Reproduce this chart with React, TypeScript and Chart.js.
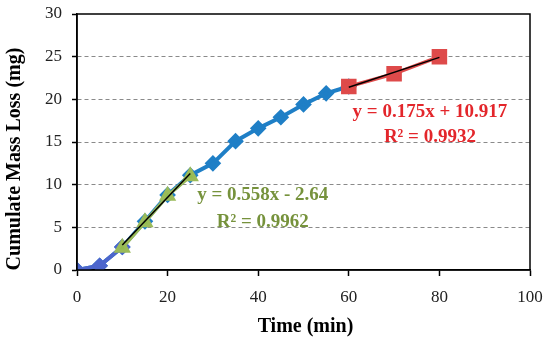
import React, { useEffect, useRef } from "react";
import { Chart, registerables } from "chart.js";

Chart.register(...registerables);

const time = [0, 5, 10, 15, 20, 25, 30, 35, 40, 45, 50, 55, 60];
const massLoss = [0, 0.5, 2.7, 5.7, 8.8, 11.1, 12.5, 15.1, 16.6, 17.9, 19.4, 20.7, 21.5];
const earlyTime = [0, 5, 10];
const earlyMass = [0, 0.5, 2.7];
const fitTime1 = [10, 15, 20, 25];
const fitMass1 = [2.6, 5.6, 8.7, 11.0];
const fitTime2 = [60, 70, 80];
const fitMass2 = [21.5, 23.0, 25.0];
const slope1 = 0.558;
const intercept1 = -2.64;
const slope2 = 0.175;
const intercept2 = 10.917;
const eq1 = ["y = 0.558x - 2.64", "R² = 0.9962"];
const eq2 = ["y = 0.175x + 10.917", "R² = 0.9932"];
const xTicks = [0, 20, 40, 60, 80, 100];
const yTicks = [0, 5, 10, 15, 20, 25, 30];

const FONT = "'Liberation Serif', 'Times New Roman', serif";

const pts = (xs: number[], ys: number[]) => xs.map((x, i) => ({ x, y: ys[i] }));

export default function App() {
  const ref = useRef<HTMLCanvasElement | null>(null);
  useEffect(() => {
    document.body.style.margin = "0";
    const canvas = ref.current!;
    const framePlugin = {
      id: "frame",
      afterDatasetsDraw(chart: any) {
        const { ctx, chartArea: a, scales } = chart;
        ctx.save();
        ctx.strokeStyle = "#000";
        ctx.lineWidth = 1.5;
        ctx.strokeRect(a.left, a.top, a.right - a.left, a.bottom - a.top);
        const xs = scales.x, ys = scales.y;
        ctx.font = `bold 19px ${FONT}`;
        ctx.textAlign = "center";
        ctx.textBaseline = "middle";
        ctx.fillStyle = "#76923c";
        ctx.fillText(eq1[0], xs.getPixelForValue(41), ys.getPixelForValue(8.8));
        ctx.fillText(eq1[1], xs.getPixelForValue(41), ys.getPixelForValue(5.6));
        ctx.fillStyle = "#e3262b";
        ctx.fillText(eq2[0], xs.getPixelForValue(77.9), ys.getPixelForValue(18.5));
        ctx.fillText(eq2[1], xs.getPixelForValue(77.9), ys.getPixelForValue(15.6));
        ctx.fillStyle = "#000";
        ctx.font = `bold 20px ${FONT}`;
        ctx.fillText("Time (min)", (a.left + a.right) / 2 + 2, 327);
        ctx.translate(15, 159);
        ctx.rotate(-Math.PI / 2);
        ctx.fillText("Cumulate Mass Loss (mg)", 0, 0);
        ctx.restore();
      },
    };
    const chart = new Chart(canvas, {
      type: "line",
      data: {
        datasets: [
          {
            data: pts(time, massLoss),
            borderColor: "#1f7fc6",
            backgroundColor: "#1f7fc6",
            borderWidth: 4,
            pointStyle: "rectRot",
            pointRadius: 5.5,
            order: 5,
          },
          {
            data: pts(earlyTime, earlyMass),
            borderColor: "#4d66cc",
            backgroundColor: "#4d66cc",
            borderWidth: 4,
            pointStyle: "rectRot",
            pointRadius: 5.5,
            order: 4,
          },
          {
            data: pts(fitTime1, fitMass1),
            borderColor: "#9bbb59",
            backgroundColor: "#92bb4e",
            borderWidth: 3.5,
            pointStyle: "triangle",
            pointRadius: 6.5,
            order: 3,
          },
          {
            data: pts(fitTime2, fitMass2),
            borderColor: "#de4a4a",
            backgroundColor: "#de4a4a",
            borderWidth: 3.5,
            pointStyle: "rect",
            pointRadius: 8.5,
            order: 2,
          },
          {
            data: [
              { x: fitTime1[0], y: slope1 * fitTime1[0] + intercept1 },
              { x: fitTime1[fitTime1.length - 1], y: slope1 * fitTime1[fitTime1.length - 1] + intercept1 },
            ],
            borderColor: "#000",
            borderWidth: 1.5,
            pointRadius: 0,
            order: 1,
          },
          {
            data: [
              { x: fitTime2[0], y: slope2 * fitTime2[0] + intercept2 },
              { x: fitTime2[fitTime2.length - 1], y: slope2 * fitTime2[fitTime2.length - 1] + intercept2 },
            ],
            borderColor: "#000",
            borderWidth: 1.5,
            pointRadius: 0,
            order: 0,
          },
        ],
      },
      options: {
        animation: false,
        responsive: false,
        layout: { padding: { top: 14, right: 20, left: 0, bottom: 0 } },
        plugins: { legend: { display: false }, tooltip: { enabled: false } },
        scales: {
          x: {
            type: "linear",
            min: 0,
            max: 100,
            afterFit: (s: any) => { s.height = 72; s.paddingLeft = 0; s.paddingRight = 0; },
            afterBuildTicks: (s: any) => { s.ticks = xTicks.map((v) => ({ value: v })); },
            grid: { drawOnChartArea: false, tickLength: 6, tickColor: "#000", tickWidth: 1.5 },
            border: { color: "#000", width: 1.5 },
            ticks: { color: "#222", font: { family: FONT, size: 17 }, padding: 11, maxRotation: 0 },
          },
          y: {
            type: "linear",
            min: 0,
            max: 30,
            afterFit: (s: any) => { s.width = 77; s.paddingTop = 0; s.paddingBottom = 0; },
            afterBuildTicks: (s: any) => { s.ticks = yTicks.map((v) => ({ value: v })); },
            grid: {
              color: (c: any) => (c.tick && (c.tick.value === 0 || c.tick.value === 30) ? "rgba(0,0,0,0)" : "#8a8a8a"),
              lineWidth: 1,
              tickLength: 5,
              tickColor: "#000",
              tickWidth: 1.5,
              tickBorderDash: [],
            },
            border: { color: "#000", width: 1.5, dash: [4, 3] },
            ticks: { color: "#222", font: { family: FONT, size: 17 }, padding: 10 },
          },
        },
      },
      plugins: [framePlugin],
    } as any);
    return () => chart.destroy();
  }, []);
  return (
    <div style={{ width: 550, height: 342 }}>
      <canvas ref={ref} width={550} height={342} style={{ display: "block" }} />
    </div>
  );
}
